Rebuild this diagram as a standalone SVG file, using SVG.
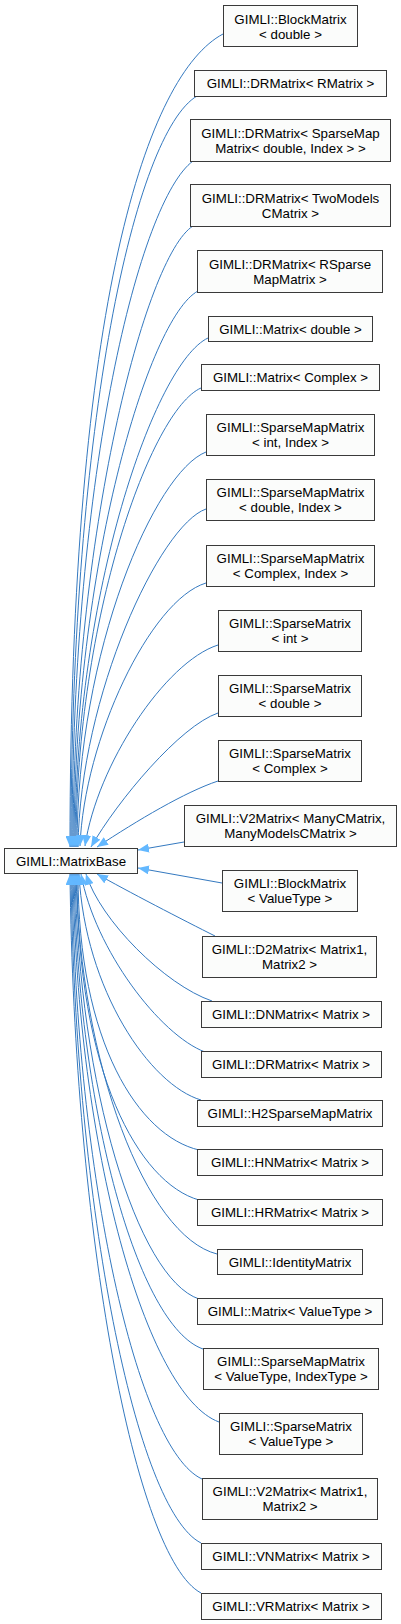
<svg xmlns="http://www.w3.org/2000/svg" width="401" height="1624" viewBox="0 0 401 1624">
<style>
.node rect{fill:#fbfcfb;stroke:#3a3a3a;stroke-width:1}
.node text{font-family:"Liberation Sans",Arial,sans-serif;font-size:13.3px;fill:#000;text-anchor:middle}
.edges path{fill:none;stroke:#3479c0;stroke-width:1;marker-end:url(#arr)}
</style>
<defs>
<marker id="arr" viewBox="0 0 11 9" refX="11" refY="4.5" markerWidth="11" markerHeight="9" markerUnits="userSpaceOnUse" orient="auto">
<path d="M0,0 L11,4.5 L0,9 z" fill="#63b8ff"/>
</marker>
</defs>
<rect width="401" height="1624" fill="#fff"/>
<g class="edges" id="edges">
<path d="M223,34 C148,74 70,299 70,847"/>
<path d="M197,96 C135,133 71,420 71,847"/>
<path d="M193,161 C140,200 72,470 72,847"/>
<path d="M193,226 C145,256 73,536 73,847"/>
<path d="M198,291 C148,318 74,569 74,847"/>
<path d="M208,338 C155,363 75,592 75,847"/>
<path d="M201,388 C151,410 76,618 76,847"/>
<path d="M206,452 C155,472 77,650 77,847"/>
<path d="M206,509 C160,525 80,695 78,847"/>
<path d="M206,583 C150,600 84,740 80,846"/>
<path d="M218,645 C165,662 97,765 85,846"/>
<path d="M218,713 C180,726 118,800 91,847"/>
<path d="M218,781 C185,792 138,820 97,847"/>
<path d="M184,842 L138,850"/>
<path d="M222,883 L138,868"/>
<path d="M215,936 C185,921 125,890 97,874"/>
<path d="M212,1001 C165,985 100,920 86,874"/>
<path d="M205,1052 C160,1035 95,950 81,874"/>
<path d="M201,1100 C150,1085 85,990 79,874"/>
<path d="M199,1150 C139,1136 78,1043 78,874"/>
<path d="M199,1200 C139,1183 77,1073 77,874"/>
<path d="M217,1254 C146,1236 80,1064 76,874"/>
<path d="M199,1299 C137,1278 79,1086 75,874"/>
<path d="M203,1349 C138,1326 78,1111 74,874"/>
<path d="M219,1422 C146,1395 77,1148 73,874"/>
<path d="M202,1479 C137,1449 76,1176 72,874"/>
<path d="M201,1543 C136,1510 75,1208 71,874"/>
<path d="M201,1593 C135,1558 74,1233 70,874"/>
</g>
<g class="node" id="MatrixBase"><rect x="4.5" y="848.5" width="133" height="25"/><text x="71" y="865.5">GIMLI::MatrixBase</text></g>
<g class="node" id="n1"><rect x="223.5" y="5.5" width="134" height="41"/><text x="290.5" y="23.5">GIMLI::BlockMatrix</text><text x="290.5" y="38.5">&lt; double &gt;</text></g>
<g class="node" id="n2"><rect x="194.5" y="70.5" width="192" height="26"/><text x="290.5" y="88">GIMLI::DRMatrix&lt; RMatrix &gt;</text></g>
<g class="node" id="n3"><rect x="190.5" y="119.5" width="200" height="42"/><text x="290.5" y="138">GIMLI::DRMatrix&lt; SparseMap</text><text x="290.5" y="153">Matrix&lt; double, Index &gt; &gt;</text></g>
<g class="node" id="n4"><rect x="190.5" y="184.5" width="200" height="42"/><text x="290.5" y="203">GIMLI::DRMatrix&lt; TwoModels</text><text x="290.5" y="218">CMatrix &gt;</text></g>
<g class="node" id="n5"><rect x="197.5" y="250.5" width="185" height="42"/><text x="290" y="269">GIMLI::DRMatrix&lt; RSparse</text><text x="290" y="284">MapMatrix &gt;</text></g>
<g class="node" id="n6"><rect x="208.5" y="316.5" width="164" height="25"/><text x="290.5" y="334">GIMLI::Matrix&lt; double &gt;</text></g>
<g class="node" id="n7"><rect x="201.5" y="364.5" width="178" height="26"/><text x="290.5" y="382">GIMLI::Matrix&lt; Complex &gt;</text></g>
<g class="node" id="n8"><rect x="206.5" y="414.5" width="168" height="41"/><text x="290.5" y="432">GIMLI::SparseMapMatrix</text><text x="290.5" y="447">&lt; int, Index &gt;</text></g>
<g class="node" id="n9"><rect x="206.5" y="479.5" width="168" height="41"/><text x="290.5" y="497">GIMLI::SparseMapMatrix</text><text x="290.5" y="512">&lt; double, Index &gt;</text></g>
<g class="node" id="n10"><rect x="206.5" y="545.5" width="168" height="41"/><text x="290.5" y="563">GIMLI::SparseMapMatrix</text><text x="290.5" y="578">&lt; Complex, Index &gt;</text></g>
<g class="node" id="n11"><rect x="218.5" y="610.5" width="143" height="41"/><text x="290" y="628">GIMLI::SparseMatrix</text><text x="290" y="643">&lt; int &gt;</text></g>
<g class="node" id="n12"><rect x="218.5" y="675.5" width="143" height="41"/><text x="290" y="693">GIMLI::SparseMatrix</text><text x="290" y="708">&lt; double &gt;</text></g>
<g class="node" id="n13"><rect x="218.5" y="740.5" width="143" height="41"/><text x="290" y="758">GIMLI::SparseMatrix</text><text x="290" y="773">&lt; Complex &gt;</text></g>
<g class="node" id="n14"><rect x="184.5" y="805.5" width="212" height="41"/><text x="290.5" y="823">GIMLI::V2Matrix&lt; ManyCMatrix,</text><text x="290.5" y="838">ManyModelsCMatrix &gt;</text></g>
<g class="node" id="n15"><rect x="222.5" y="870.5" width="135" height="41"/><text x="290" y="888">GIMLI::BlockMatrix</text><text x="290" y="903">&lt; ValueType &gt;</text></g>
<g class="node" id="n16"><rect x="202.5" y="936.5" width="174" height="41"/><text x="289.5" y="954">GIMLI::D2Matrix&lt; Matrix1,</text><text x="289.5" y="969">Matrix2 &gt;</text></g>
<g class="node" id="n17"><rect x="201.5" y="1001.5" width="180" height="26"/><text x="291" y="1019">GIMLI::DNMatrix&lt; Matrix &gt;</text></g>
<g class="node" id="n18"><rect x="201.5" y="1051.5" width="180" height="26"/><text x="291" y="1069">GIMLI::DRMatrix&lt; Matrix &gt;</text></g>
<g class="node" id="n19"><rect x="197.5" y="1100.5" width="185" height="26"/><text x="290" y="1118">GIMLI::H2SparseMapMatrix</text></g>
<g class="node" id="n20"><rect x="197.5" y="1149.5" width="185" height="26"/><text x="290" y="1167">GIMLI::HNMatrix&lt; Matrix &gt;</text></g>
<g class="node" id="n21"><rect x="197.5" y="1199.5" width="185" height="26"/><text x="290" y="1217">GIMLI::HRMatrix&lt; Matrix &gt;</text></g>
<g class="node" id="n22"><rect x="217.5" y="1249.5" width="145" height="25"/><text x="290" y="1266.5">GIMLI::IdentityMatrix</text></g>
<g class="node" id="n23"><rect x="197.5" y="1298.5" width="185" height="26"/><text x="290" y="1316">GIMLI::Matrix&lt; ValueType &gt;</text></g>
<g class="node" id="n24"><rect x="203.5" y="1348.5" width="175" height="41"/><text x="291" y="1366">GIMLI::SparseMapMatrix</text><text x="291" y="1381">&lt; ValueType, IndexType &gt;</text></g>
<g class="node" id="n25"><rect x="219.5" y="1413.5" width="143" height="41"/><text x="291" y="1431">GIMLI::SparseMatrix</text><text x="291" y="1446">&lt; ValueType &gt;</text></g>
<g class="node" id="n26"><rect x="202.5" y="1478.5" width="175" height="41"/><text x="290" y="1496">GIMLI::V2Matrix&lt; Matrix1,</text><text x="290" y="1511">Matrix2 &gt;</text></g>
<g class="node" id="n27"><rect x="201.5" y="1543.5" width="180" height="26"/><text x="291" y="1561">GIMLI::VNMatrix&lt; Matrix &gt;</text></g>
<g class="node" id="n28"><rect x="201.5" y="1593.5" width="180" height="26"/><text x="291" y="1611">GIMLI::VRMatrix&lt; Matrix &gt;</text></g>
</svg>
